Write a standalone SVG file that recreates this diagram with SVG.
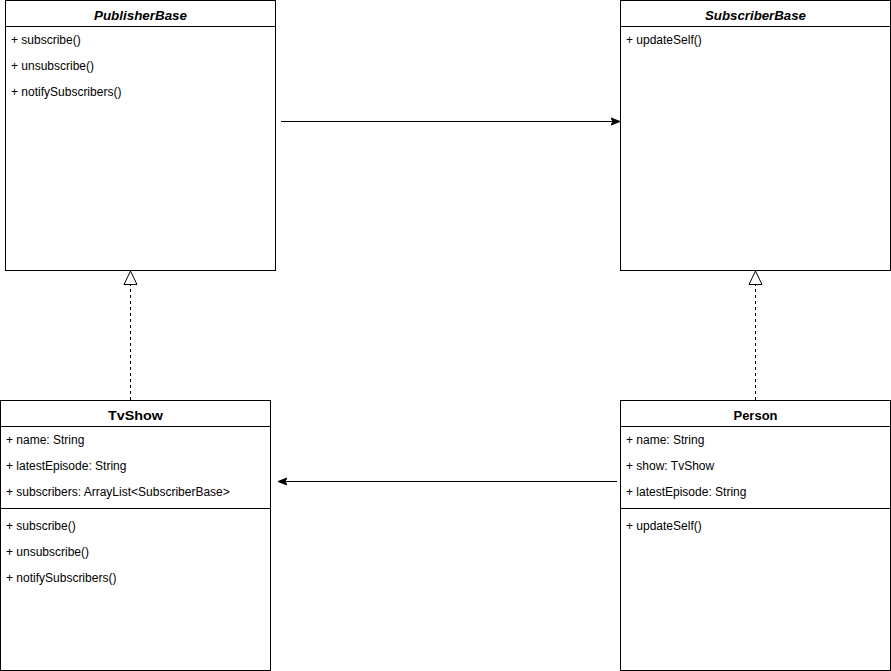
<svg xmlns="http://www.w3.org/2000/svg" width="891" height="671" viewBox="0 0 891 671">
<style>
.box{fill:#fff;stroke:#000;stroke-width:1}
.sep{stroke:#000;stroke-width:1}
.t{font-family:"Liberation Sans",Arial,sans-serif;font-size:12px;fill:#000}
.h{font-family:"Liberation Sans",Arial,sans-serif;font-size:13px;font-weight:bold;fill:#000;text-anchor:middle}
.i{font-style:italic}
.edge{fill:none;stroke:#000;stroke-width:1}
.dash{stroke-dasharray:3,3}
</style>
<defs>
<marker id="fill" markerWidth="10" markerHeight="10" refX="9" refY="5" orient="auto" markerUnits="userSpaceOnUse" viewBox="0 0 10 10">
<path d="M0,1.5 L9,5 L0,8.5 L2,5 Z" fill="#000" stroke="#000" stroke-width="1"/>
</marker>
<marker id="tri" markerWidth="16" markerHeight="16" refX="14" refY="7" orient="auto" markerUnits="userSpaceOnUse" viewBox="0 0 16 14">
<path d="M0.5,0.5 L14,7 L0.5,13.5 Z" fill="#fff" stroke="#000" stroke-width="1"/>
</marker>
</defs>
<g id="PublisherBase">
<rect class="box" x="5.5" y="0.5" width="270" height="270"/>
<line class="sep" x1="5.5" y1="26.5" x2="275.5" y2="26.5"/>
<text class="h i" x="140.5" y="19.5" textLength="93" lengthAdjust="spacingAndGlyphs">PublisherBase</text>
<text class="t" x="11" y="44">+ subscribe()</text>
<text class="t" x="11" y="70">+ unsubscribe()</text>
<text class="t" x="11" y="96">+ notifySubscribers()</text>
</g>
<g id="SubscriberBase">
<rect class="box" x="620.5" y="0.5" width="270" height="270"/>
<line class="sep" x1="620.5" y1="26.5" x2="890.5" y2="26.5"/>
<text class="h i" x="755.5" y="19.5" textLength="101" lengthAdjust="spacingAndGlyphs">SubscriberBase</text>
<text class="t" x="626" y="44">+ updateSelf()</text>
</g>
<g id="TvShow">
<rect class="box" x="0.5" y="400.5" width="270" height="270"/>
<line class="sep" x1="0.5" y1="426.5" x2="270.5" y2="426.5"/>
<line class="sep" x1="0.5" y1="508.5" x2="270.5" y2="508.5"/>
<text class="h" x="135.5" y="419.5" textLength="55" lengthAdjust="spacingAndGlyphs">TvShow</text>
<text class="t" x="6" y="444">+ name: String</text>
<text class="t" x="6" y="470">+ latestEpisode: String</text>
<text class="t" x="6" y="496">+ subscribers: ArrayList&lt;SubscriberBase&gt;</text>
<text class="t" x="6" y="530">+ subscribe()</text>
<text class="t" x="6" y="556">+ unsubscribe()</text>
<text class="t" x="6" y="582">+ notifySubscribers()</text>
</g>
<g id="Person">
<rect class="box" x="620.5" y="400.5" width="270" height="270"/>
<line class="sep" x1="620.5" y1="426.5" x2="890.5" y2="426.5"/>
<line class="sep" x1="620.5" y1="508.5" x2="890.5" y2="508.5"/>
<text class="h" x="755.5" y="419.5" textLength="44" lengthAdjust="spacingAndGlyphs">Person</text>
<text class="t" x="626" y="444">+ name: String</text>
<text class="t" x="626" y="470">+ show: TvShow</text>
<text class="t" x="626" y="496">+ latestEpisode: String</text>
<text class="t" x="626" y="530">+ updateSelf()</text>
</g>
<g id="connectors">
<line class="edge" x1="281" y1="121.5" x2="620" y2="121.5" marker-end="url(#fill)"/>
<line class="edge" x1="617" y1="481.5" x2="278" y2="481.5" marker-end="url(#fill)"/>
<line class="edge dash" x1="130.5" y1="400" x2="130.5" y2="271" marker-end="url(#tri)"/>
<line class="edge dash" x1="755.5" y1="400" x2="755.5" y2="271" marker-end="url(#tri)"/>
</g>
</svg>
